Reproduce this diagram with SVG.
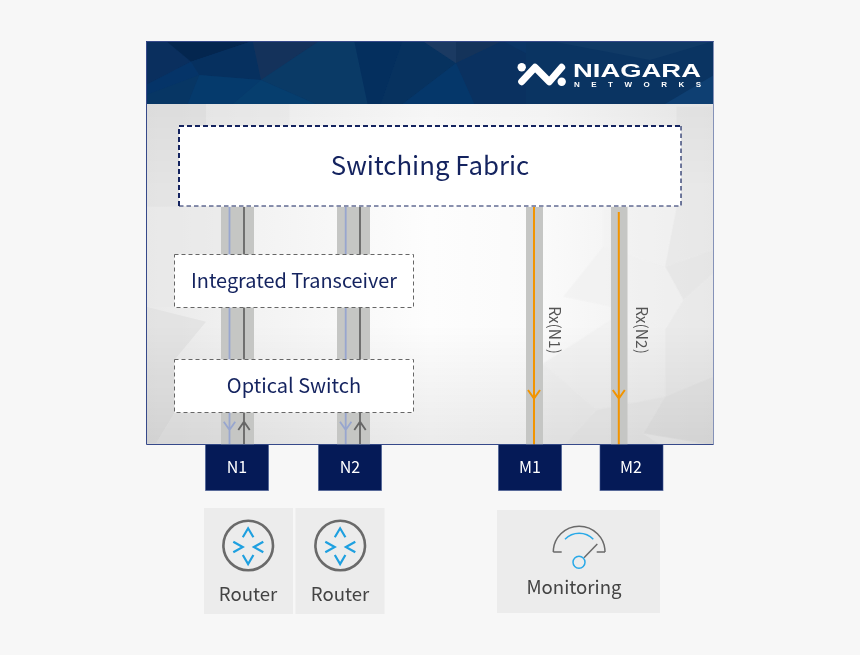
<svg xmlns="http://www.w3.org/2000/svg" width="860" height="655" viewBox="0 0 860 655">
<style>
text{font-family:"Noto Sans CJK JP","Noto Sans",sans-serif}
.lab{fill:#14235f;text-anchor:middle}
.port{fill:#051a57;stroke:#3f5590;stroke-width:1;stroke-opacity:.6}
.portt{fill:#fff;font-size:16px;text-anchor:middle}
.bar{fill:#c5c6c4}
.blue{stroke:#98a6cf;stroke-width:1.8;fill:none}
.grey{stroke:#666;stroke-width:1.8;fill:none}
.or{stroke:#f29400;stroke-width:2;fill:none}
.card{fill:#ececec}
.ct{fill:#444;font-size:18.600px;text-anchor:middle}
.ring{fill:none;stroke:#6a6a6a;stroke-width:2.600}
.chev{fill:none;stroke:#1ea0e0;stroke-width:2.200}
.rx{fill:#555;font-size:15.500px;text-anchor:middle}
.iconl{fill:none;stroke:#6a6a6a;stroke-width:1.500}
.iconb{fill:none;stroke:#29a9e8;stroke-width:1.500}
.box{fill:#fff;stroke:#666;stroke-dasharray:4 3}
.logot{fill:#fff;font-weight:700;font-family:"Liberation Sans",sans-serif}
</style>
<defs>
<linearGradient id="panel" x1="0" x2="1" y1="0" y2="0"><stop offset="0" stop-color="#e9e9e9"/><stop offset=".2" stop-color="#f3f3f3"/><stop offset=".5" stop-color="#fdfdfd"/><stop offset=".7" stop-color="#fafafa"/><stop offset="1" stop-color="#ececec"/></linearGradient>
<linearGradient id="shade" x1="0" x2="0" y1="0" y2="1"><stop offset="0" stop-color="#000" stop-opacity=".03"/><stop offset=".25" stop-color="#000" stop-opacity="0"/><stop offset=".65" stop-color="#000" stop-opacity="0"/><stop offset="1" stop-color="#000" stop-opacity=".07"/></linearGradient>
<clipPath id="hc"><rect x="146" y="41" width="568" height="63"/></clipPath>
</defs>
<rect width="860" height="655" fill="#f7f7f7"/>
<g id="panel-bg">
<rect x="147" y="104" width="567" height="340" fill="url(#panel)"/>
<g opacity=".55">
<g transform="translate(146,100) scale(.33333)">
<polygon points="0,12 180,12 180,75 100,75 100,320 0,320" fill="#dedede"/>
<polygon points="180,12 430,12 430,75 180,75" fill="#ececec"/>
<polygon points="0,320 225,320 225,460 85,460 85,620 0,620" fill="#e8e8e8"/>
<polygon points="0,620 180,665 85,780 85,940 30,1030 0,1030" fill="#dcdcdc"/>
<polygon points="85,940 225,940 225,1030 30,1030" fill="#e6e6e6"/>
</g>
<g transform="translate(400,200) scale(.33333)">
<polygon points="610,20 830,20 795,200 610,140" fill="#f1f1f1"/>
<polygon points="830,-280 940,-280 940,150 795,200 830,20" fill="#e4e4e4"/>
<polygon points="795,200 940,150 940,220 850,300" fill="#e0e0e0"/>
<polygon points="610,140 795,200 850,300 795,390 680,330 490,290" fill="#efefef"/>
<polygon points="795,390 850,300 940,220 940,530 795,590" fill="#e6e6e6"/>
<polygon points="680,330 795,390 795,590 590,630 430,490" fill="#eeeeee"/>
<polygon points="795,590 940,530 940,735 730,700" fill="#dcdcdc"/>
<polygon points="590,630 795,590 730,700 780,735 490,735" fill="#e6e6e6"/>
<polygon points="430,490 590,630 490,735 380,735" fill="#ebebeb"/>
</g>
</g>
<rect x="147" y="104" width="567" height="340" fill="url(#shade)"/>
</g>
<g id="header" clip-path="url(#hc)">
<rect x="146" y="41" width="568" height="63" fill="#0a3566"/>
<g transform="translate(146,40) scale(.33333)">
<polygon points="0,3 60,3 135,65 0,135" fill="#0a2f5e"/>
<polygon points="60,3 320,3 135,65" fill="#04264f"/>
<polygon points="0,135 135,65 160,105 0,165" fill="#053468"/>
<polygon points="135,65 320,3 345,120 160,105" fill="#06305f"/>
<polygon points="320,3 520,3 345,120" fill="#14325b"/>
<polygon points="345,120 520,3 625,3 665,192 510,192" fill="#0a3a66"/>
<polygon points="625,3 770,3 705,192 665,192" fill="#042f5e"/>
<polygon points="770,3 830,3 930,70 770,192 705,192" fill="#07325f"/>
<polygon points="830,3 930,3 930,70" fill="#1b3a62"/>
<polygon points="930,3 1070,3 930,70" fill="#14335a"/>
<polygon points="930,70 1070,3 1140,40 1140,192 985,192" fill="#0a3160"/>
<polygon points="930,70 985,192 770,192" fill="#05376a"/>
<polygon points="0,165 160,105 125,192 0,192" fill="#073664"/>
<polygon points="160,105 345,120 260,192 125,192" fill="#053a6c"/>
<polygon points="345,120 510,192 260,192" fill="#063e6e"/>
</g>
<polygon points="526,41 714,41 714,104 526,104" fill="#0a3462"/>
<polygon points="550,41 714,41 650,60" fill="#103a66"/>
<polygon points="665,104 714,75 714,104" fill="#0e3f72"/>
</g>
<path d="M146.500 444.500V41.500H713.500" fill="none" stroke="#36498a"/>
<path d="M713.500 41.500V444.500" fill="none" stroke="#8592b8"/>
<path d="M146.500 444.500H713.500" fill="none" stroke="#36498a"/>
<g id="connectors">
<rect class="bar" x="221" y="207" width="33" height="238"/>
<rect class="bar" x="337" y="207" width="33" height="238"/>
<rect class="bar" x="526" y="207" width="17" height="238"/>
<rect class="bar" x="611" y="207" width="16.500" height="238"/>
<path class="blue" d="M229.500 207V444M223.800 421.700l5.700 8.300 5.700-8.300"/>
<path class="grey" d="M244 207V444M238.300 430l5.700-8.300 5.700 8.300"/>
<path class="blue" d="M345.700 207V444M340 421.700l5.700 8.300 5.700-8.300"/>
<path class="grey" d="M360 207V444M354.300 430l5.700-8.300 5.700 8.300"/>
<path class="or" d="M534 207V445M528 390l6 8.500 6-8.500"/>
<path class="or" d="M618.800 212V445M612.800 390l6 8.500 6-8.500"/>
</g>
<g id="fabric"><rect x="179" y="126" width="502" height="80" fill="#fff"/>
<path d="M179 206V126H681" fill="none" stroke="#14235f" stroke-width="2" stroke-dasharray="5 3"/>
<path d="M179 206H681V126" fill="none" stroke="#14235f" stroke-width="1.200" stroke-dasharray="4.500 3"/>
<text class="lab" x="430" y="175" font-size="25.800">Switching Fabric</text></g>
<g id="transceiver"><rect class="box" x="174.500" y="254.500" width="239" height="53"/><text class="lab" x="294" y="288" font-size="19.900">Integrated Transceiver</text></g>
<g id="optical"><rect class="box" x="174.500" y="359.500" width="239" height="53"/><text class="lab" x="294" y="393" font-size="20">Optical Switch</text></g>
<g id="n1"><rect class="port" x="205.500" y="444.500" width="63" height="46"/><text class="portt" x="237" y="473">N1</text></g>
<g id="n2"><rect class="port" x="318.500" y="444.500" width="63" height="46"/><text class="portt" x="350" y="473">N2</text></g>
<g id="m1"><rect class="port" x="498.500" y="444.500" width="63" height="46"/><text class="portt" x="530" y="473">M1</text></g>
<g id="m2"><rect class="port" x="600" y="444.500" width="63" height="46"/><text class="portt" x="631" y="473">M2</text></g>
<g id="rx1"><text class="rx" transform="translate(548.500,330) rotate(90)">Rx(N1)</text></g>
<g id="rx2"><text class="rx" transform="translate(635.500,330) rotate(90)">Rx(N2)</text></g>
<g id="router1"><rect class="card" x="204" y="508" width="89" height="106"/>
<circle class="ring" cx="248.200" cy="545.500" r="24.800"/>
<path class="chev" d="M242.800 537.300l5.300-9 5.300 9M242.800 555l5.300 9 5.300-9M233.300 541.700l9.400 5.300-9.400 5.300M263.300 541.700l-9.400 5.300 9.400 5.300"/>
<text class="ct" x="248" y="600.500">Router</text></g>
<g id="router2"><rect class="card" x="295.500" y="508" width="89" height="106"/>
<circle class="ring" cx="340.200" cy="545.500" r="24.800"/>
<path class="chev" d="M334.800 537.300l5.300-9 5.300 9M334.800 555l5.300 9 5.300-9M325.300 541.700l9.400 5.300-9.400 5.300M355.300 541.700l-9.400 5.300 9.400 5.300"/>
<text class="ct" x="340" y="600.500">Router</text></g>
<g id="monitoring"><rect class="card" x="497" y="510" width="163" height="103"/>
<path class="iconl" d="M553.300 552a25.850 25.850 0 0 1 51.700 0"/>
<path class="iconl" d="M553.300 552h8.400M596.700 552h8.300" stroke-width="2"/>
<path class="iconb" d="M565 539.300a19.700 19.700 0 0 1 28.300 0"/>
<path class="iconl" d="M584 557.700L597.300 544"/>
<circle class="iconb" cx="579" cy="562.300" r="6"/>
<text class="ct" x="574" y="594">Monitoring</text></g>
<g id="logo">
<path d="M521.700 81.700L535 67.300 549.300 81.700 561.700 67.300" fill="none" stroke="#fff" stroke-width="7" stroke-linecap="round" stroke-linejoin="round"/>
<circle cx="521.700" cy="67.300" r="4.200" fill="#fff"/><circle cx="561.700" cy="81.700" r="4.200" fill="#fff"/>
<text class="logot" x="573" y="76.500" font-size="19" textLength="128" lengthAdjust="spacingAndGlyphs">NIAGARA</text>
<text class="logot" x="574" y="87" font-size="8" textLength="127">NETWORKS</text>
</g>
</svg>
